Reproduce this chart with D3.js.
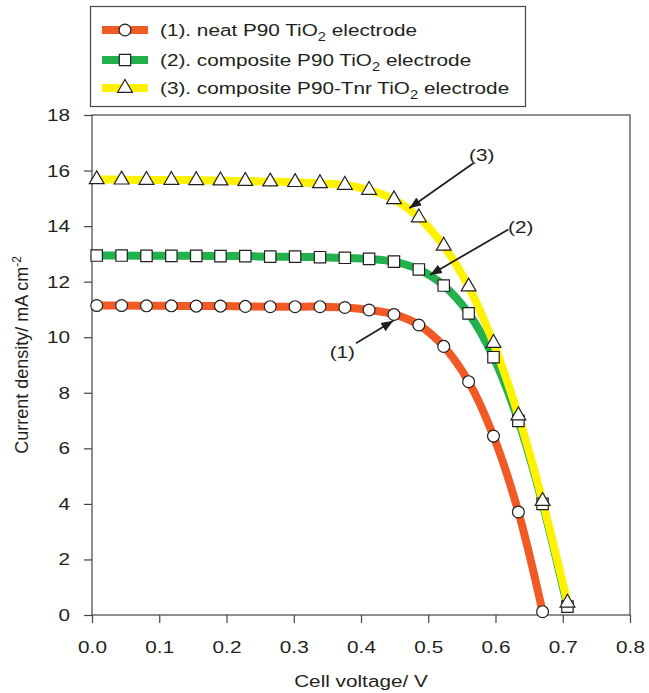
<!DOCTYPE html>
<html>
<head>
<meta charset="utf-8">
<script src="https://cdn.jsdelivr.net/npm/d3@7"></script>
<style>
  body { margin: 0; background: #fff; }
  svg text { font-family: Arial, "Liberation Sans", sans-serif; fill: #231f20; }
</style>
</head>
<body>
<svg id="chart" width="649" height="693"></svg>
<script>
// cell voltage (V) of each measured point
const voltage = [0.007, 0.044, 0.081, 0.118, 0.155, 0.191, 0.228, 0.265, 0.302, 0.339,
                 0.376, 0.412, 0.449, 0.486, 0.523, 0.560, 0.597, 0.634, 0.670, 0.707];
// current density (mA cm-2)
const neatP90 = [11.14, 11.14, 11.13, 11.13, 11.12, 11.12, 11.11, 11.10, 11.10, 11.10,
                 11.07, 10.98, 10.82, 10.44, 9.67, 8.40, 6.44, 3.71, 0.12];
const compP90 = [12.94, 12.94, 12.93, 12.93, 12.93, 12.92, 12.92, 12.90, 12.90, 12.88,
                 12.86, 12.82, 12.72, 12.44, 11.86, 10.86, 9.28, 6.99, 4.00, 0.30];
const compTnr = [15.68, 15.67, 15.66, 15.66, 15.65, 15.64, 15.62, 15.60, 15.58, 15.54,
                 15.48, 15.30, 14.96, 14.31, 13.29, 11.82, 9.79, 7.18, 4.10, 0.44];
const seriesNames = ["(1). neat P90 TiO|2| electrode",
                     "(2). composite P90 TiO|2| electrode",
                     "(3). composite P90-Tnr TiO|2| electrode"];
const xTicks = [0, 0.1, 0.2, 0.3, 0.4, 0.5, 0.6, 0.7, 0.8];
const yTicks = [0, 2, 4, 6, 8, 10, 12, 14, 16, 18];

const margin = {top: 115, right: 19, bottom: 78, left: 92};
const width = 649 - margin.left - margin.right;
const height = 693 - margin.top - margin.bottom;
const ink = "#231f20";
const wide = 1.22; // the original lettering is a bit wider than Arial

// widen horizontal text around its own x anchor
function stretch(sel) {
  sel.each(function() {
    const t = d3.select(this);
    const x0 = +t.attr("x") || 0;
    const prev = t.attr("transform") || "";
    t.attr("x", x0 / wide).attr("transform", `${prev} scale(${wide},1)`);
  });
}

const svg = d3.select("#chart");
const g = svg.append("g").attr("transform", `translate(${margin.left},${margin.top})`);

const x = d3.scaleLinear().domain([0, 0.8]).range([0, width]);
const y = d3.scaleLinear().domain([0, 18]).range([height, 0]);

// arrow head
svg.append("defs").append("marker")
    .attr("id", "arr")
    .attr("viewBox", "0 0 10 10")
    .attr("refX", 10).attr("refY", 5)
    .attr("markerWidth", 12).attr("markerHeight", 12)
    .attr("markerUnits", "userSpaceOnUse")
    .attr("orient", "auto")
  .append("path")
    .attr("d", "M0,1 L10,5 L0,9 Z")
    .attr("fill", ink);

// frame
g.append("rect")
    .attr("width", width).attr("height", height)
    .attr("fill", "none").attr("stroke", "#444").attr("stroke-width", 1.2);

// axes
const xAxis = g.append("g")
    .attr("transform", `translate(0,${height})`)
    .call(d3.axisBottom(x).tickValues(xTicks).tickFormat(d3.format(".1f")).tickSize(8).tickSizeOuter(0).tickPadding(18));
const yAxis = g.append("g")
    .call(d3.axisLeft(y).tickValues(yTicks).tickSize(8).tickSizeOuter(0).tickPadding(14));
[xAxis, yAxis].forEach(a => {
  a.select(".domain").remove();
  a.selectAll("line").attr("stroke", "#444").attr("stroke-width", 1.2);
  a.selectAll("text").attr("font-size", 17).attr("fill", ink)
    .attr("font-family", "Arial, 'Liberation Sans', sans-serif");
  stretch(a.selectAll("text"));
});

// axis titles
g.append("text")
    .attr("x", width / 2).attr("y", height + 72)
    .attr("text-anchor", "middle").attr("font-size", 17)
    .text("Cell voltage/ V")
    .call(stretch);
const yl = g.append("text")
    .attr("transform", `translate(${-64},${height / 2 - 10}) rotate(-90)`)
    .attr("text-anchor", "middle").attr("font-size", 18);
yl.append("tspan").text("Current density/ mA cm");
yl.append("tspan").attr("dy", -7).attr("font-size", 12).text("-2");

// series
const series = [
  {vals: neatP90, color: "#f15a24", shape: d3.symbolCircle, size: 110},
  {vals: compP90, color: "#22b14c", shape: d3.symbolSquare, size: 130},
  {vals: compTnr, color: "#fff200", shape: d3.symbolTriangle, size: 95}
];

const line = d3.line()
    .x(d => x(d[0]))
    .y(d => y(d[1]))
    .curve(d3.curveCatmullRom.alpha(0.5));

series.forEach(s => {
  s.pts = s.vals.map((v, i) => [voltage[i], v]);
  g.append("path")
      .datum(s.pts)
      .attr("fill", "none")
      .attr("stroke", s.color)
      .attr("stroke-width", 8)
      .attr("d", line);
});

series.forEach(s => {
  g.append("g").selectAll("path")
    .data(s.pts)
    .enter().append("path")
      .attr("transform", d => `translate(${x(d[0])},${y(d[1])})`)
      .attr("d", d3.symbol().type(s.shape).size(s.size))
      .attr("fill", "#fff")
      .attr("stroke", ink)
      .attr("stroke-width", 1.2);
});

// annotations (data coords)
const notes = [
  {label: "(1)", tx: 0.3722, ty: 9.48, from: [0.3926, 9.78], to: [0.448, 10.59]},
  {label: "(2)", tx: 0.6375, ty: 13.96, from: [0.619, 13.88], to: [0.5026, 12.24]},
  {label: "(3)", tx: 0.5795, ty: 16.56, from: [0.567, 16.26], to: [0.4718, 14.64]}
];
notes.forEach(n => {
  g.append("line")
      .attr("x1", x(n.from[0])).attr("y1", y(n.from[1]))
      .attr("x2", x(n.to[0])).attr("y2", y(n.to[1]))
      .attr("stroke", ink).attr("stroke-width", 1.8)
      .attr("marker-end", "url(#arr)");
  g.append("text")
      .attr("x", x(n.tx)).attr("y", y(n.ty))
      .attr("dy", "0.35em")
      .attr("text-anchor", "middle").attr("font-size", 17)
      .text(n.label)
      .call(stretch);
});

// legend
const lg = svg.append("g");
lg.append("rect")
    .attr("x", 90.5).attr("y", 6.5).attr("width", 435).attr("height", 100)
    .attr("fill", "#fff").attr("stroke", "#444").attr("stroke-width", 1.2);
const rowY = [30, 60, 88];
series.forEach((s, i) => {
  lg.append("line")
      .attr("x1", 102).attr("x2", 148).attr("y1", rowY[i]).attr("y2", rowY[i])
      .attr("stroke", s.color).attr("stroke-width", 8);
  lg.append("path")
      .attr("transform", `translate(125,${rowY[i]})`)
      .attr("d", d3.symbol().type(s.shape).size(s.size))
      .attr("fill", "#fff").attr("stroke", ink).attr("stroke-width", 1.2);
  const parts = seriesNames[i].split("|");
  const t = lg.append("text")
      .attr("x", 160).attr("y", rowY[i]).attr("dy", "0.35em")
      .attr("font-size", 17);
  t.append("tspan").text(parts[0]);
  t.append("tspan").attr("dy", 5).attr("font-size", 12).text(parts[1]);
  t.append("tspan").attr("dy", -5).text(parts[2]);
  stretch(t);
});
</script>
</body>
</html>
